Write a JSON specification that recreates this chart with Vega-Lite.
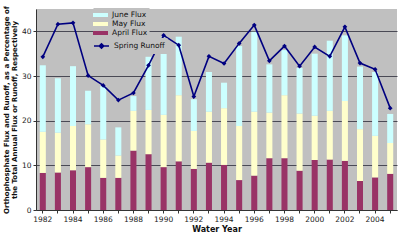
{
  "$schema": "https://vega.github.io/schema/vega-lite/v6.json",
  "width": 361,
  "height": 201,
  "autosize": {"type": "none"},
  "padding": {"top": 9, "left": 36, "right": 3, "bottom": 30},
  "background": "white",
  "config": {
    "view": {"fill": "#c0c0c0", "stroke": null},
    "font": "DejaVu Sans",
    "axis": {"labelFont": "DejaVu Sans", "labelFontSize": 7.5, "labelColor": "#222", "titleFont": "DejaVu Sans", "titleFontWeight": "bold", "titleColor": "#111", "domainColor": "#333", "tickColor": "#333"},
    "legend": {"labelFont": "DejaVu Sans", "labelFontSize": 7.5, "labelColor": "#111"}
  },
  "data": {
    "values": [
      {"year": 1982, "April Flux": 8.3, "May Flux": 9.2, "June Flux": 14.9, "Spring Runoff": 34.3},
      {"year": 1983, "April Flux": 8.4, "May Flux": 8.9, "June Flux": 12.2, "Spring Runoff": 41.6},
      {"year": 1984, "April Flux": 8.9, "May Flux": 9.9, "June Flux": 13.4, "Spring Runoff": 41.9},
      {"year": 1985, "April Flux": 9.6, "May Flux": 9.6, "June Flux": 7.5, "Spring Runoff": 30.1},
      {"year": 1986, "April Flux": 7.2, "May Flux": 8.6, "June Flux": 11.9, "Spring Runoff": 27.9},
      {"year": 1987, "April Flux": 7.2, "May Flux": 5.0, "June Flux": 6.3, "Spring Runoff": 24.6},
      {"year": 1988, "April Flux": 13.3, "May Flux": 8.9, "June Flux": 3.3, "Spring Runoff": 26.2},
      {"year": 1989, "April Flux": 12.5, "May Flux": 9.9, "June Flux": 11.9, "Spring Runoff": 32.4},
      {"year": 1990, "April Flux": 9.6, "May Flux": 11.7, "June Flux": 17.3, "Spring Runoff": 39.1},
      {"year": 1991, "April Flux": 10.9, "May Flux": 14.8, "June Flux": 13.1, "Spring Runoff": 36.9},
      {"year": 1992, "April Flux": 9.2, "May Flux": 8.5, "June Flux": 7.1, "Spring Runoff": 25.4},
      {"year": 1993, "April Flux": 10.6, "May Flux": 11.4, "June Flux": 8.9, "Spring Runoff": 34.4},
      {"year": 1994, "April Flux": 10.1, "May Flux": 12.7, "June Flux": 5.7, "Spring Runoff": 32.8},
      {"year": 1995, "April Flux": 6.7, "May Flux": 12.1, "June Flux": 17.9, "Spring Runoff": 37.3},
      {"year": 1996, "April Flux": 7.7, "May Flux": 14.3, "June Flux": 17.9, "Spring Runoff": 41.4},
      {"year": 1997, "April Flux": 11.6, "May Flux": 10.2, "June Flux": 10.8, "Spring Runoff": 33.4},
      {"year": 1998, "April Flux": 11.6, "May Flux": 14.1, "June Flux": 10.1, "Spring Runoff": 36.7},
      {"year": 1999, "April Flux": 8.8, "May Flux": 12.8, "June Flux": 10.2, "Spring Runoff": 32.2},
      {"year": 2000, "April Flux": 11.2, "May Flux": 9.9, "June Flux": 13.9, "Spring Runoff": 36.5},
      {"year": 2001, "April Flux": 11.3, "May Flux": 10.9, "June Flux": 15.7, "Spring Runoff": 34.4},
      {"year": 2002, "April Flux": 11.0, "May Flux": 13.4, "June Flux": 14.7, "Spring Runoff": 41.0},
      {"year": 2003, "April Flux": 6.5, "May Flux": 11.6, "June Flux": 14.0, "Spring Runoff": 32.9},
      {"year": 2004, "April Flux": 7.3, "May Flux": 9.3, "June Flux": 14.3, "Spring Runoff": 31.5},
      {"year": 2005, "April Flux": 8.1, "May Flux": 6.9, "June Flux": 6.5, "Spring Runoff": 22.8}
    ]
  },
  "encoding": {
    "x": {
      "field": "year",
      "type": "ordinal",
      "scale": {"paddingInner": 0.6, "paddingOuter": 0.25},
      "axis": {"title": "Water Year", "titleFontSize": 8, "titlePadding": 3, "labelAngle": 0, "labelPadding": 2, "tickSize": 3, "labelExpr": "datum.value % 2 == 0 ? datum.label : ''"}
    }
  },
  "layer": [
    {
      "transform": [
        {"fold": ["April Flux", "May Flux", "June Flux"], "as": ["series", "flux"]},
        {"calculate": "indexof(['April Flux','May Flux','June Flux'], datum.series)", "as": "stackOrder"}
      ],
      "mark": {"type": "bar", "strokeWidth": 0},
      "encoding": {
        "y": {
          "field": "flux",
          "type": "quantitative",
          "stack": "zero",
          "scale": {"domain": [0, 45], "nice": false},
          "axis": {
            "title": ["Orthophosphate Flux and Runoff, as a Percentage of", "the Total Annual Flux or Runoff, Respectively"],
            "titleFontSize": 7,
            "titleLineHeight": 8,
            "titlePadding": 4,
            "values": [0, 5, 10, 15, 20, 25, 30, 35, 40, 45],
            "grid": true,
            "gridColor": "#4a4a55",
            "gridWidth": 1,
            "tickSize": 3,
            "labelPadding": 2
          }
        },
        "color": {
          "field": "series",
          "type": "nominal",
          "scale": {"domain": ["June Flux", "May Flux", "April Flux"], "range": ["#ccffff", "#ffffcc", "#993366"]},
          "legend": {
            "title": null,
            "orient": "none",
            "legendX": 57.5,
            "legendY": -1,
            "fillColor": "#c0c0c0",
            "padding": 2,
            "rowPadding": 0,
            "symbolType": "M-1.5,-0.4H1.5V0.4H-1.5Z",
            "symbolSize": 100,
            "symbolStrokeWidth": 0,
            "labelOffset": 6.5
          }
        },
        "order": {"field": "stackOrder", "type": "quantitative", "sort": "ascending"}
      }
    },
    {
      "mark": {"type": "line", "strokeWidth": 1.6},
      "encoding": {
        "y": {"field": "Spring Runoff", "type": "quantitative"},
        "stroke": {
          "datum": "Spring Runoff",
          "type": "nominal",
          "scale": {"range": ["#000080"]},
          "legend": {
            "title": null,
            "orient": "none",
            "legendX": 57.5,
            "legendY": 29,
            "fillColor": "#c0c0c0",
            "padding": 2,
            "symbolType": "M-1.5,0H1.5M0,-0.45L0.45,0L0,0.45L-0.45,0Z",
            "symbolSize": 100,
            "symbolFillColor": "#000080",
            "symbolStrokeWidth": 1.5,
            "labelOffset": 6.5
          }
        }
      }
    },
    {
      "mark": {"type": "point", "shape": "diamond", "filled": true, "color": "#000080", "size": 22, "opacity": 1},
      "encoding": {
        "y": {"field": "Spring Runoff", "type": "quantitative"}
      }
    }
  ]
}
